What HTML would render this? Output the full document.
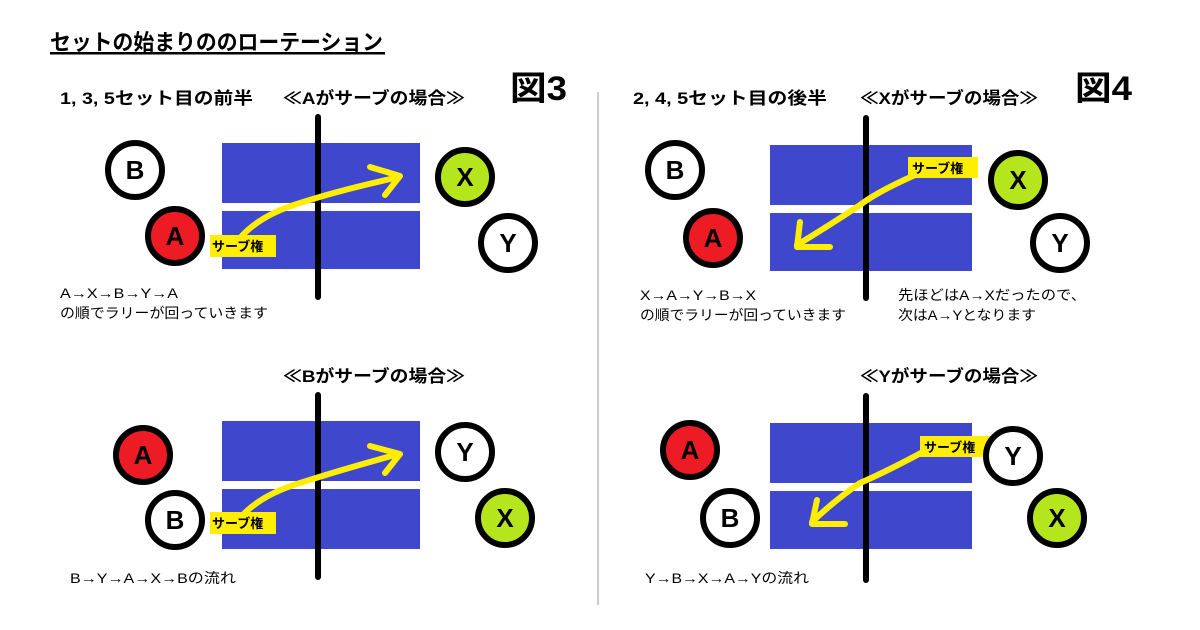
<!DOCTYPE html>
<html><head><meta charset="utf-8"><style>
body{margin:0;background:#fff}
svg{display:block}
text{font-family:"Liberation Sans","Noto Sans CJK JP",sans-serif;font-weight:bold;fill:#000}
.s{font-size:14px;font-weight:normal}
</style></head><body>
<svg width="1200" height="630" viewBox="0 0 1200 630">
<text x="50" y="50" font-size="22" textLength="333" lengthAdjust="spacingAndGlyphs">セットの始まりののローテーション</text>
<rect x="50" y="52" width="335" height="2.5" fill="#000"/>
<line x1="598" y1="92" x2="598" y2="605" stroke="#999" stroke-width="1"/>

<text x="60" y="104" font-size="17" textLength="193" lengthAdjust="spacingAndGlyphs">1, 3, 5セット目の前半</text>
<text x="283" y="104" font-size="17" textLength="182" lengthAdjust="spacingAndGlyphs">≪Aがサーブの場合≫</text>
<text x="510" y="100" font-size="34" textLength="57" lengthAdjust="spacingAndGlyphs">図3</text>
<text x="633" y="104" font-size="17" textLength="194" lengthAdjust="spacingAndGlyphs">2, 4, 5セット目の後半</text>
<text x="860" y="104" font-size="17" textLength="178" lengthAdjust="spacingAndGlyphs">≪Xがサーブの場合≫</text>
<text x="1075" y="100" font-size="34" textLength="57" lengthAdjust="spacingAndGlyphs">図4</text>
<text x="283" y="382" font-size="17" textLength="182" lengthAdjust="spacingAndGlyphs">≪Bがサーブの場合≫</text>
<text x="860" y="382" font-size="17" textLength="178" lengthAdjust="spacingAndGlyphs">≪Yがサーブの場合≫</text>

<g fill="#3f48cc">
<rect x="222" y="143" width="198" height="60"/><rect x="222" y="211" width="198" height="58"/>
<rect x="222" y="421" width="198" height="60"/><rect x="222" y="489" width="198" height="60"/>
<rect x="770" y="145" width="202" height="60"/><rect x="770" y="213" width="202" height="58"/>
<rect x="770" y="423" width="202" height="60"/><rect x="770" y="491" width="202" height="58"/>
</g>
<g stroke="#000" stroke-width="6" stroke-linecap="round">
<line x1="318" y1="117" x2="318" y2="297"/><line x1="318" y1="395" x2="318" y2="577"/>
<line x1="866" y1="118" x2="866" y2="298"/><line x1="866" y1="396" x2="866" y2="580"/>
</g>

<g stroke="#ffee00" stroke-width="6" fill="none" stroke-linecap="round" stroke-linejoin="round">
<path d="M240 238 Q260 215 300 203 Q340 190 395 178"/><path d="M370 167 L400 176 L385 195"/>
<path d="M240 518 Q260 495 300 483 Q340 470 395 455"/><path d="M370 446 L400 454 L385 473"/>
<path d="M922 172 Q880 190 860 205 Q830 225 797 245"/><path d="M800 222 L797 247 L830 247"/>
<path d="M932 447 Q890 470 860 483 Q835 500 812 522"/><path d="M817 500 L812 524 L845 524"/>
</g>
<g font-size="13">
<rect x="210" y="235" width="66" height="22" fill="#ffee00"/><text x="212" y="251">サーブ権</text>
<rect x="210" y="512" width="66" height="22" fill="#ffee00"/><text x="212" y="528">サーブ権</text>
<rect x="908" y="157" width="70" height="21" fill="#ffee00"/><text x="912" y="173">サーブ権</text>
<rect x="920" y="436" width="70" height="21" fill="#ffee00"/><text x="924" y="452">サーブ権</text>
</g>

<g stroke="#000" stroke-width="6">
<circle cx="135" cy="170" r="27" fill="#fff"/><circle cx="175" cy="236" r="27" fill="#ed1c24"/>
<circle cx="465" cy="177" r="27" fill="#b5e61d"/><circle cx="508" cy="243" r="27" fill="#fff"/>
<circle cx="143" cy="455" r="27" fill="#ed1c24"/><circle cx="175" cy="520" r="27" fill="#fff"/>
<circle cx="465" cy="452" r="27" fill="#fff"/><circle cx="505" cy="518" r="27" fill="#b5e61d"/>
<circle cx="675" cy="170" r="27" fill="#fff"/><circle cx="713" cy="238" r="27" fill="#ed1c24"/>
<circle cx="1018" cy="180" r="27" fill="#b5e61d"/><circle cx="1060" cy="243" r="27" fill="#fff"/>
<circle cx="690" cy="450" r="27" fill="#ed1c24"/><circle cx="730" cy="518" r="27" fill="#fff"/>
<circle cx="1013" cy="456" r="27" fill="#fff"/><circle cx="1057" cy="518" r="27" fill="#b5e61d"/>
</g>
<g font-size="26" text-anchor="middle">
<text x="135" y="179">B</text><text x="175" y="245">A</text><text x="465" y="186">X</text><text x="508" y="252">Y</text>
<text x="143" y="464">A</text><text x="175" y="529">B</text><text x="465" y="461">Y</text><text x="505" y="527">X</text>
<text x="675" y="179">B</text><text x="713" y="247">A</text><text x="1018" y="189">X</text><text x="1060" y="252">Y</text>
<text x="690" y="459">A</text><text x="730" y="527">B</text><text x="1013" y="465">Y</text><text x="1057" y="527">X</text>
</g>

<text class="s" x="60" y="298" textLength="118" lengthAdjust="spacingAndGlyphs">A→X→B→Y→A</text>
<text class="s" x="60" y="318" textLength="208" lengthAdjust="spacingAndGlyphs">の順でラリーが回っていきます</text>
<text class="s" x="70" y="583" textLength="166" lengthAdjust="spacingAndGlyphs">B→Y→A→X→Bの流れ</text>
<text class="s" x="640" y="300" textLength="116" lengthAdjust="spacingAndGlyphs">X→A→Y→B→X</text>
<text class="s" x="640" y="320" textLength="206" lengthAdjust="spacingAndGlyphs">の順でラリーが回っていきます</text>
<text class="s" x="898" y="300" textLength="188" lengthAdjust="spacingAndGlyphs">先ほどはA→Xだったので、</text>
<text class="s" x="898" y="320" textLength="138" lengthAdjust="spacingAndGlyphs">次はA→Yとなります</text>
<text class="s" x="645" y="583" textLength="164" lengthAdjust="spacingAndGlyphs">Y→B→X→A→Yの流れ</text>
</svg>
</body></html>
